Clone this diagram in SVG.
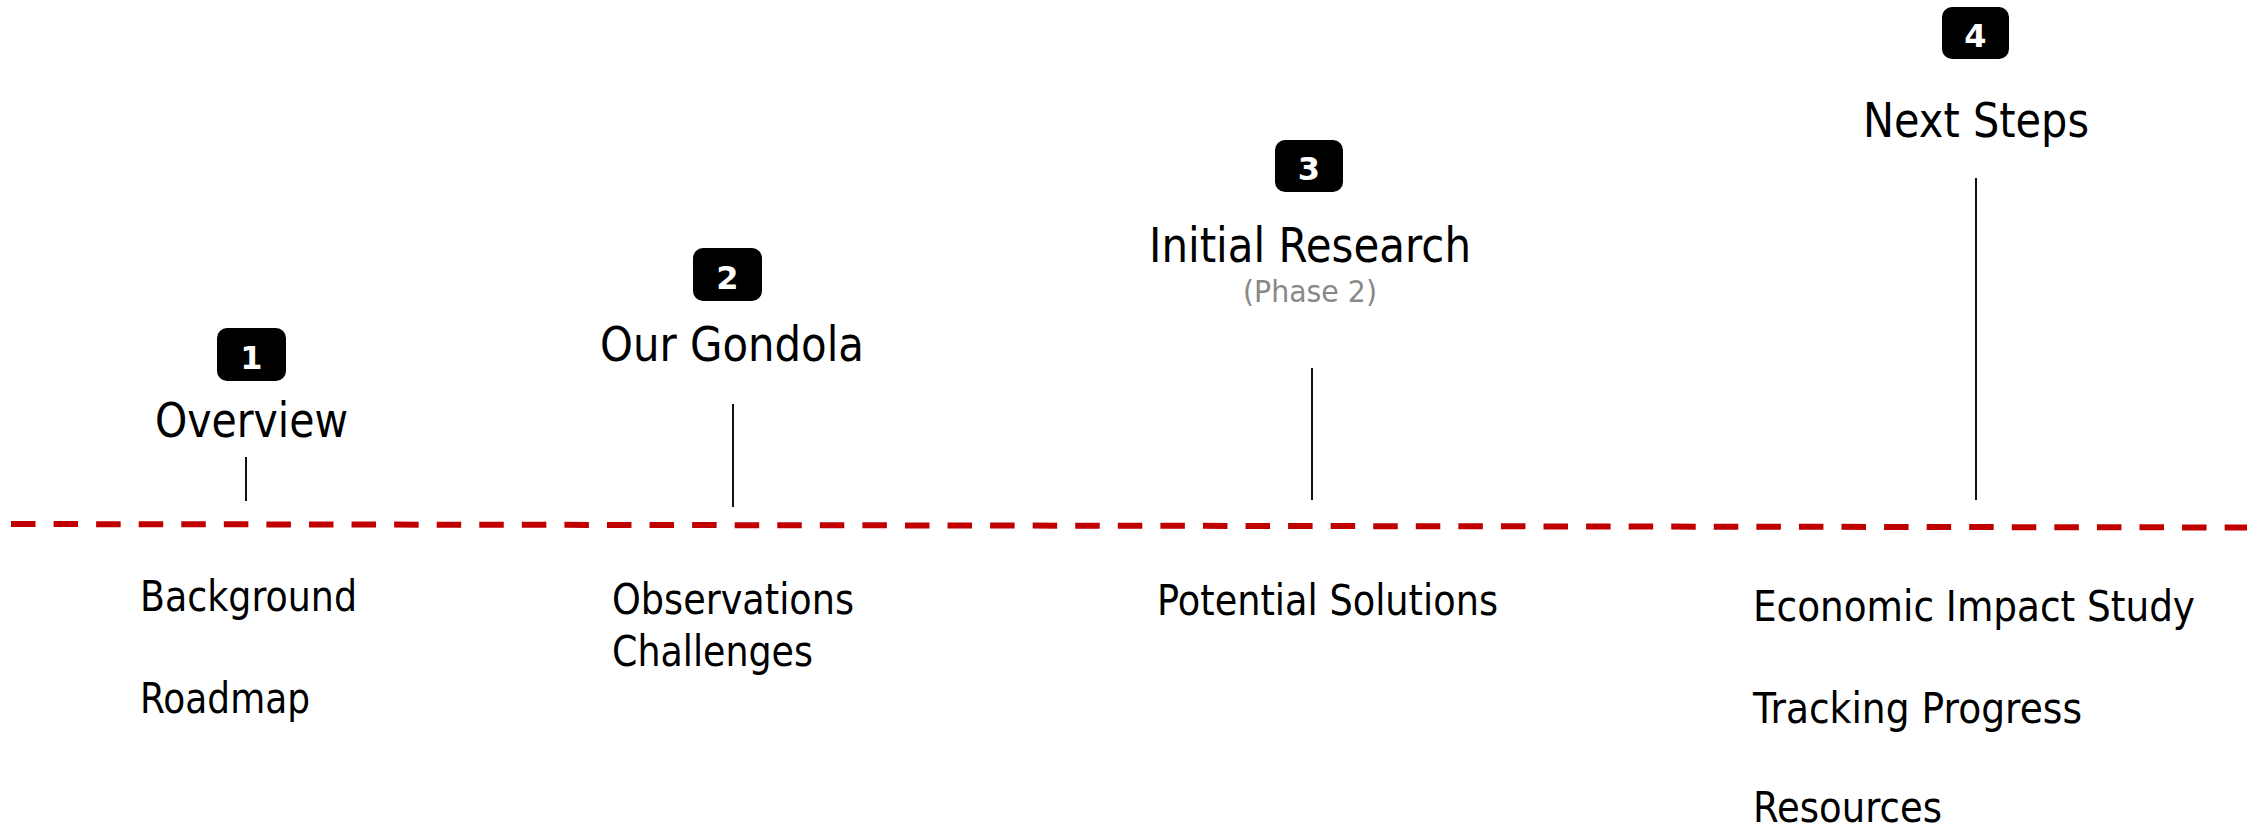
<svg xmlns="http://www.w3.org/2000/svg" width="2267" height="829" viewBox="0 0 2267 829">
  <style>
    .badge { fill: #000000; }
    .num { font-family: "DejaVu Sans", "Liberation Sans", sans-serif; font-weight: bold; font-size: 32px; fill: #ffffff; text-anchor: middle; }
    .head { font-family: "DejaVu Sans", "Liberation Sans", sans-serif; font-size: 48px; fill: #000000; }
    .item { font-family: "DejaVu Sans", "Liberation Sans", sans-serif; font-size: 42px; fill: #000000; }
    .note { font-family: "DejaVu Sans", "Liberation Sans", sans-serif; font-size: 30px; fill: #888888; }
    .tick { stroke: #111111; stroke-width: 2; }
    .axis { stroke: #c00000; stroke-width: 6; stroke-dasharray: 24.5 18.07; fill: none; }
  </style>
  <rect width="2267" height="829" fill="#ffffff"/>

  <!-- timeline axis and stems -->
  <g id="connectors">
    <line class="axis" x1="11" y1="524" x2="2247" y2="527.5"/>
    <line class="tick" x1="246" y1="457" x2="246" y2="501"/>
    <line class="tick" x1="733" y1="404" x2="733" y2="507"/>
    <line class="tick" x1="1312" y1="368" x2="1312" y2="500"/>
    <line class="tick" x1="1976" y1="178" x2="1976" y2="500"/>
  </g>

  <g id="step-1">
    <rect class="badge" x="217" y="328" width="69" height="53" rx="10"/>
    <text class="num" x="251.5" y="369">1</text>
    <text class="head" x="155" y="437" textLength="193" lengthAdjust="spacingAndGlyphs">Overview</text>
    <text class="item" x="140" y="611" textLength="217" lengthAdjust="spacingAndGlyphs">Background</text>
    <text class="item" x="140" y="713" textLength="170" lengthAdjust="spacingAndGlyphs">Roadmap</text>
  </g>

  <g id="step-2">
    <rect class="badge" x="693" y="248" width="69" height="53" rx="10"/>
    <text class="num" x="727.5" y="289">2</text>
    <text class="head" x="600" y="361" textLength="264" lengthAdjust="spacingAndGlyphs">Our Gondola</text>
    <text class="item" x="612" y="614" textLength="242" lengthAdjust="spacingAndGlyphs">Observations</text>
    <text class="item" x="612" y="666" textLength="201" lengthAdjust="spacingAndGlyphs">Challenges</text>
  </g>

  <g id="step-3">
    <rect class="badge" x="1275" y="140" width="68" height="52" rx="10"/>
    <text class="num" x="1309" y="180">3</text>
    <text class="head" x="1149" y="262" textLength="322" lengthAdjust="spacingAndGlyphs">Initial Research</text>
    <text class="note" x="1243" y="302" textLength="134" lengthAdjust="spacingAndGlyphs">(Phase 2)</text>
    <text class="item" x="1157" y="615" textLength="341" lengthAdjust="spacingAndGlyphs">Potential Solutions</text>
  </g>

  <g id="step-4">
    <rect class="badge" x="1942" y="7" width="67" height="52" rx="10"/>
    <text class="num" x="1975.5" y="47">4</text>
    <text class="head" x="1863" y="137" textLength="226" lengthAdjust="spacingAndGlyphs">Next Steps</text>
    <text class="item" x="1753" y="621" textLength="442" lengthAdjust="spacingAndGlyphs">Economic Impact Study</text>
    <text class="item" x="1753" y="723" textLength="329" lengthAdjust="spacingAndGlyphs">Tracking Progress</text>
    <text class="item" x="1753" y="822" textLength="189" lengthAdjust="spacingAndGlyphs">Resources</text>
  </g>
</svg>
